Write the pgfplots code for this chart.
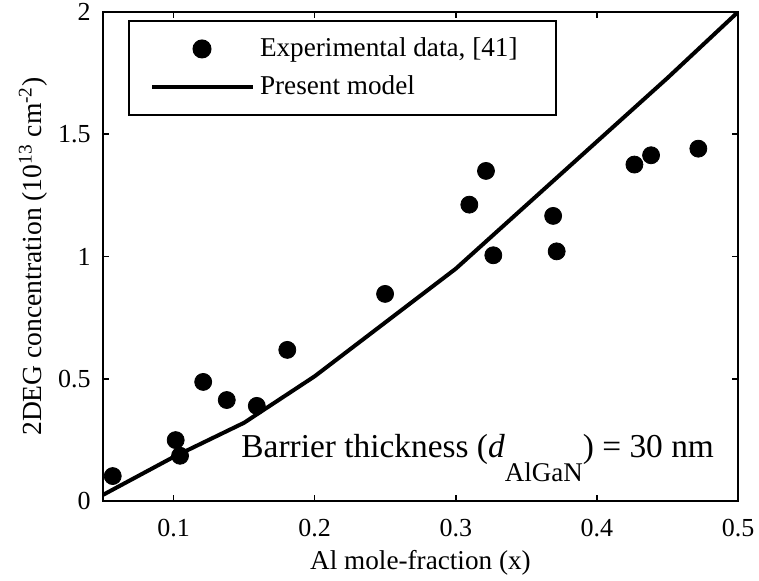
\documentclass[border=0pt]{standalone}
\usepackage{fontspec}
\setmainfont{Liberation Serif}
\usepackage{pgfplots}
\pgfplotsset{compat=1.18}
\begin{document}
\begin{tikzpicture}
\useasboundingbox (-51.5pt,-40pt) rectangle (328pt,250.5pt);
\begin{axis}[
  at={(0pt,0pt)}, anchor=south west,
  scale only axis, width=317.5pt, height=244.5pt,
  xmin=0.05, xmax=0.5, ymin=0, ymax=2,
  xtick={0.1,0.2,0.3,0.4,0.5}, ytick={0,0.5,1,1.5,2},
  axis line style={line width=1pt},
  tick style={line width=0.8pt, black},
  major tick length=3pt,
  tick align=inside,
  /pgf/number format/assume math mode=true,
  xticklabel style={font=\fontsize{13}{15}\selectfont, inner sep=0pt, anchor=base, yshift=-18pt},
  yticklabel style={font=\fontsize{13}{15}\selectfont, inner sep=0pt, anchor=east, xshift=-6pt},
  every axis x label/.style={at={(rel axis cs:0.5,0)}, anchor=base, yshift=-34.5pt, inner sep=0pt, font=\fontsize{13.6}{16}\selectfont},
  every axis y label/.style={at={(rel axis cs:0,0.5)}, anchor=base, xshift=-30.5pt, rotate=90, inner sep=0pt, font=\fontsize{13.8}{16}\selectfont},
  xlabel={Al mole-fraction (x)},
  ylabel={2DEG concentration (10\textsuperscript{13} cm\textsuperscript{-2})},
  legend cell align=left,
  legend style={at={(0.0394,0.9836)}, anchor=north west, draw=black, line width=1pt,
    inner xsep=10.5pt, inner ysep=8.5pt, row sep=8pt, column sep=2.5pt,
    font=\fontsize{13.6}{16}\selectfont, nodes={inner sep=0pt}},
]
\addplot[only marks, mark=*, mark size=4.25pt, black,
  legend image code/.code={\path[draw=none,fill=none] (0pt,0pt) -- (50.5pt,0pt); \fill[black] (25pt,0pt) circle (4.25pt);}]
  coordinates {
  (0.0569,0.102) (0.1015,0.249) (0.1046,0.185) (0.121,0.487) (0.1377,0.413)
  (0.159,0.389) (0.1806,0.618) (0.2499,0.847) (0.3096,1.212) (0.3214,1.350)
  (0.369,1.166) (0.3266,1.005) (0.3715,1.021) (0.4266,1.376) (0.4384,1.414)
  (0.4719,1.441)
};
\addlegendentry{Experimental data, [41]\hspace*{8.5pt}}
\addplot[line width=2pt, black, no marks,
  legend image code/.code={\draw[line width=2pt] (0pt,0pt) -- (50.5pt,0pt);}]
  coordinates {
  (0.05,0.025) (0.1,0.18) (0.15,0.32) (0.2,0.51) (0.25,0.73) (0.3,0.95)
  (0.35,1.21) (0.4,1.47) (0.45,1.73) (0.5,2.0)
};
\addlegendentry{\vphantom{p}Present model}
\node[anchor=base west, inner sep=0pt, font=\fontsize{16.7}{20}\selectfont] at (axis cs:0.1478,0.176)
  {Barrier thickness (\textit{d}\raisebox{-11.8pt}{\fontsize{13.5}{15}\selectfont AlGaN}) = 30 nm};
\end{axis}
\end{tikzpicture}
\end{document}
